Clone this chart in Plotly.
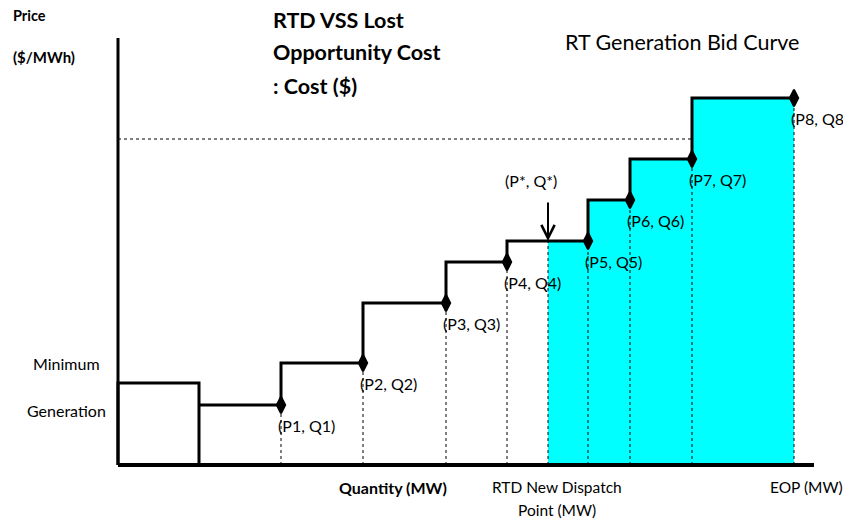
import plotly.graph_objects as go

# ---- data (diagram units: quantity in MW, price in $/MWh) ----
min_gen_q = 81
min_gen_p = 82
step_q = [163, 245, 328, 389, 470, 512, 574, 676]
step_p = [60, 102, 162, 203, 224, 265, 306, 367]
point_labels = ["(P1, Q1)", "(P2, Q2)", "(P3, Q3)", "(P4, Q4)",
                "(P5, Q5)", "(P6, Q6)", "(P7, Q7)", "(P8, Q8)"]
q_star = 430
p_star = 224
ref_price = 326
ref_price_q_end = 574
axis_q_max = 696
axis_p_max = 427

FONT = "Lato, Carlito, 'Open Sans', sans-serif"

fig = go.Figure()

# cyan lost-opportunity area (from Q* to EOP under the bid curve)
fx, fy = [q_star, q_star], [0, p_star]
for i in range(len(step_q)):
    if step_q[i] <= q_star:
        continue
    fx += [step_q[i]]
    fy += [fy[-1]]
    if i + 1 < len(step_q):
        fx += [step_q[i]]
        fy += [step_p[i + 1]]
fx += [step_q[-1], q_star]
fy += [0, 0]
fig.add_trace(go.Scatter(x=fx, y=fy, fill="toself", fillcolor="#00FFFF",
                         mode="none", hoverinfo="skip", showlegend=False))

# dotted verticals from each point down to the axis
for q, p in zip(step_q, step_p):
    fig.add_trace(go.Scatter(x=[q, q], y=[0, p], mode="lines",
                             line=dict(color="black", width=1, dash="dot"),
                             hoverinfo="skip", showlegend=False))
fig.add_trace(go.Scatter(x=[q_star, q_star], y=[0, p_star], mode="lines",
                         line=dict(color="black", width=1, dash="dot"),
                         hoverinfo="skip", showlegend=False))
# dotted horizontal reference price
fig.add_trace(go.Scatter(x=[0, ref_price_q_end], y=[ref_price, ref_price], mode="lines",
                         line=dict(color="black", width=1, dash="dot"),
                         hoverinfo="skip", showlegend=False))

# minimum generation box
fig.add_trace(go.Scatter(x=[0, 0, min_gen_q, min_gen_q],
                         y=[0, min_gen_p, min_gen_p, 0], mode="lines",
                         line=dict(color="black", width=3),
                         hoverinfo="skip", showlegend=False))

# step bid curve
sx, sy = [min_gen_q], [step_p[0]]
for i in range(len(step_q)):
    sx.append(step_q[i]); sy.append(step_p[i])
    if i + 1 < len(step_q):
        sx.append(step_q[i]); sy.append(step_p[i + 1])
fig.add_trace(go.Scatter(x=sx, y=sy, mode="lines",
                         line=dict(color="black", width=3),
                         hoverinfo="skip", showlegend=False))
fig.add_trace(go.Scatter(x=step_q, y=step_p, mode="markers",
                         marker=dict(symbol="diamond-tall", size=12, color="black",
                                     line=dict(color="black", width=2)),
                         hoverinfo="skip", showlegend=False))

# axes lines
fig.add_trace(go.Scatter(x=[0, 0], y=[0, axis_p_max], mode="lines",
                         line=dict(color="black", width=3),
                         hoverinfo="skip", showlegend=False))
fig.add_trace(go.Scatter(x=[0, axis_q_max], y=[0, 0], mode="lines",
                         line=dict(color="black", width=4),
                         hoverinfo="skip", showlegend=False))

ann = []
for q, p, t in zip(step_q, step_p, point_labels):
    ann.append(dict(x=q - 5, y=p - 20, text=t, showarrow=False, xanchor="left",
                    yanchor="middle", font=dict(size=16, color="black", family=FONT)))

# arrow to (P*, Q*)
ann.append(dict(x=q_star, y=p_star, ax=q_star, ay=p_star + 40, axref="x", ayref="y",
                text="", showarrow=True, arrowhead=5, arrowsize=1.3, arrowwidth=2,
                arrowcolor="black"))
ann.append(dict(x=q_star - 17, y=p_star + 61, text="(P*, Q*)", showarrow=False,
                xanchor="center", yanchor="middle",
                font=dict(size=16, color="black", family=FONT)))

W, H = 843, 521
px = lambda v: v / W
py = lambda v: 1 - v / H


def txt(xp, yp, t, size, bold=False, xanchor="left"):
    ann.append(dict(x=px(xp), y=py(yp), xref="paper", yref="paper",
                    text=(f"<b>{t}</b>" if bold else t),
                    showarrow=False, xanchor=xanchor, yanchor="middle",
                    font=dict(size=size, color="black", family=FONT)))


txt(11, 16, "Price", 14.5, True)
txt(11, 57, "($/MWh)", 15, True)
txt(271, 20, "RTD VSS Lost", 21.5, True)
txt(271, 52, "Opportunity Cost", 21.5, True)
txt(271, 86, ": Cost ($)", 21.5, True)
txt(563, 42, "RT Generation Bid Curve", 21.5)
txt(66, 363, "Minimum", 16, xanchor="center")
txt(66, 410, "Generation", 16, xanchor="center")
txt(393, 487, "Quantity (MW)", 16, True, xanchor="center")
txt(557, 487, "RTD New Dispatch", 15.5, xanchor="center")
txt(557, 510, "Point (MW)", 15.5, xanchor="center")
txt(768, 487, "EOP (MW)", 15.5)

fig.update_layout(
    width=W, height=H, margin=dict(l=0, r=0, t=0, b=0),
    paper_bgcolor="white", plot_bgcolor="white",
    xaxis=dict(range=[-118, 725], visible=False, fixedrange=True),
    yaxis=dict(range=[-56, 465], visible=False, fixedrange=True),
    annotations=ann, showlegend=False,
)

fig.write_html("out.html", config={"displayModeBar": False},
               post_script="document.body.style.margin='0';document.body.style.overflow='hidden';")
